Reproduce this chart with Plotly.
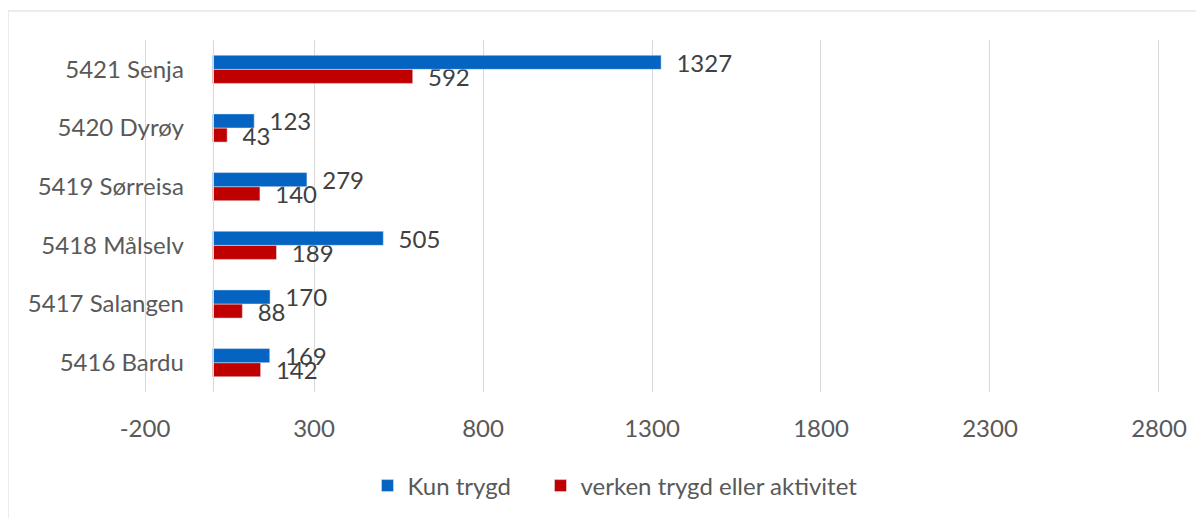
import plotly.graph_objects as go

categories = ["5416 Bardu", "5417 Salangen", "5418 Målselv", "5419 Sørreisa", "5420 Dyrøy", "5421 Senja"]
kun_trygd = [169, 170, 505, 279, 123, 1327]
verken = [142, 88, 189, 140, 43, 592]
tick_vals = [-200, 300, 800, 1300, 1800, 2300, 2800]
tick_text = ["-200", "300", "800", "1300", "1800", "2300", "2800"]

FONT = "Lato"
FS = 24
# page has an 8px body margin; figure sized to fit the 1204x518 window
W, H = 1196, 510
ml, mr, mt, mb = 135, 43, 32, 126
XMIN, XMAX = -206, 2806

fig = go.Figure()
fig.add_trace(go.Bar(
    y=categories, x=verken, orientation="h", name="verken trygd eller aktivitet",
    marker=dict(color="#C00000"), legendrank=2,
    text=verken, texttemplate="\u00a0\u00a0%{x}", textposition="outside",
    constraintext="none",
    textfont=dict(family=FONT, size=FS, color="#404040"), cliponaxis=False,
))
fig.add_trace(go.Bar(
    y=categories, x=kun_trygd, orientation="h", name="Kun trygd\u00a0\u00a0\u00a0\u00a0",
    marker=dict(color="#0563C1"), legendrank=1,
    text=kun_trygd, texttemplate="\u00a0\u00a0%{x}", textposition="outside",
    constraintext="none",
    textfont=dict(family=FONT, size=FS, color="#404040"), cliponaxis=False,
))

pw = W - ml - mr
ph = H - mt - mb
fig.update_layout(
    width=W, height=H,
    margin=dict(l=ml, r=mr, t=mt, b=mb, autoexpand=False),
    paper_bgcolor="white", plot_bgcolor="white",
    barmode="group", bargap=0.52, bargroupgap=0,
    font=dict(family=FONT, size=FS, color="#595959"),
    showlegend=True,
    legend=dict(orientation="h", x=(607 - ml) / pw, xanchor="center",
                y=-(478 - (H - mb)) / ph, yanchor="middle",
                font=dict(family=FONT, size=FS, color="#595959"),
                itemwidth=30, tracegroupgap=0),
    xaxis=dict(range=[XMIN, XMAX], tickvals=tick_vals, ticktext=tick_text,
               showgrid=True, automargin=False,
               gridcolor="#D9D9D9", gridwidth=1, zeroline=False,
               showline=False, ticks="", ticklabelstandoff=20,
               tickfont=dict(family=FONT, size=FS, color="#595959")),
    yaxis=dict(anchor="free", position=(0 - XMIN) / (XMAX - XMIN), showline=True,
               automargin=False, linecolor="#D9D9D9", linewidth=1, ticks="",
               ticklabelstandoff=24, showgrid=False,
               tickfont=dict(family=FONT, size=FS, color="#595959")),
    shapes=[dict(type="rect", xref="paper", yref="paper",
                 x0=(0 - ml) / pw, x1=(1189 - ml) / pw,
                 y0=-(H + 5 - (H - mb)) / ph, y1=1 + (mt - 3) / ph,
                 line=dict(color="#D9D9D9", width=1), layer="below")],
)
fig.write_html("out.html")
